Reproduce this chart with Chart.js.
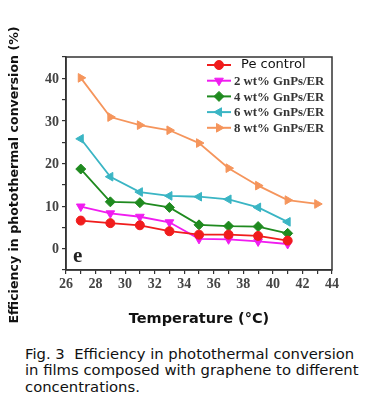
<!DOCTYPE html>
<html lang="en">
<head>
  <meta charset="UTF-8" />
  <title>Photothermal efficiency</title>
  <script src="https://cdn.jsdelivr.net/npm/chart.js"></script>
  <style>
    body {
      margin: 0;
      background: #fff;
      width: 390px;
      height: 407px;
      overflow: hidden;
      position: relative;
    }
    .chart-box {
      position: absolute;
      left: 0;
      top: 0;
      width: 390px;
      height: 335px;
    }
    .caption {
      position: absolute;
      left: 25px;
      top: 346px;
      font-family: "DejaVu Sans", sans-serif;
      font-size: 14.8px;
      line-height: 16.3px;
      color: #111;
      white-space: nowrap;
    }
  </style>
</head>
<body>
  <div class="chart-box"><canvas id="chart"></canvas></div>
  <div class="caption">Fig. 3&nbsp; Efficiency in photothermal conversion<br>in films composed with graphene to different<br>concentrations.</div>
  <script>
    // temperatures (°C)
    const temps = [27, 29, 31, 33, 35, 37, 39, 41, 43];

    // efficiency values (%)
    const peControl = [6.6, 6.0, 5.5, 4.1, 3.3, 3.3, 3.0, 1.9];
    const gnp2 = [9.9, 8.3, 7.5, 6.2, 2.3, 2.2, 1.7, 1.1];
    const gnp4 = [18.7, 11.0, 10.8, 9.7, 5.6, 5.3, 5.2, 3.6];
    const gnp6 = [25.8, 16.9, 13.3, 12.4, 12.2, 11.6, 9.7, 6.3];
    const gnp8 = [40.1, 30.9, 29.0, 27.8, 24.8, 18.9, 14.8, 11.4, 10.5];

    const seriesNames = ['Pe control', '2 wt% GnPs/ER', '4 wt% GnPs/ER', '6 wt% GnPs/ER', '8 wt% GnPs/ER'];
    const yTicks = [0, 10, 20, 30, 40];
    const xTicks = [26, 28, 30, 32, 34, 36, 38, 40, 42, 44];

    const toPoints = vals => vals.map((v, i) => ({ x: temps[i], y: v }));

    const styles = [
      { color: '#f01c1c', shape: 'circle', rot: 0, r: 4.5 },
      { color: '#f01cf0', shape: 'triangle', rot: 180, r: 5 },
      { color: '#1f8a1f', shape: 'rectRot', rot: 0, r: 5 },
      { color: '#3ab5c4', shape: 'triangle', rot: -90, r: 5 },
      { color: '#f5955c', shape: 'triangle', rot: 90, r: 5 }
    ];
    const allData = [peControl, gnp2, gnp4, gnp6, gnp8];

    const datasets = allData.map((vals, i) => ({
      label: seriesNames[i],
      data: toPoints(vals),
      borderColor: styles[i].color,
      backgroundColor: styles[i].color,
      pointStyle: styles[i].shape,
      rotation: styles[i].rot,
      pointRadius: styles[i].r,
      pointBorderWidth: 1,
      borderWidth: 1.8,
      tension: 0
    }));

    const serif = "'Liberation Serif', 'Times New Roman', serif";

    // frame, tick labels, "e" label, y title and legend
    const decor = {
      id: 'decor',
      afterDatasetsDraw(chart) {
        const { ctx, chartArea: a, scales } = chart;
        ctx.save();
        ctx.strokeStyle = '#333';
        ctx.lineWidth = 1.5;
        ctx.strokeRect(a.left, a.top, a.right - a.left, a.bottom - a.top);

        // tick labels in bold serif
        ctx.fillStyle = '#444';
        ctx.font = 'bold 14px ' + serif;
        ctx.textAlign = 'center';
        ctx.textBaseline = 'middle';
        xTicks.forEach(v => {
          ctx.fillText(String(v), scales.x.getPixelForValue(v), a.bottom + 14);
        });
        ctx.textAlign = 'right';
        yTicks.forEach(v => {
          ctx.fillText(String(v), a.left - 7, scales.y.getPixelForValue(v) + 1);
        });

        ctx.textAlign = 'left';
        ctx.fillStyle = '#222';
        ctx.font = 'bold 21px ' + serif;
        ctx.textBaseline = 'alphabetic';
        ctx.fillText('e', a.left + 7, a.bottom - 8);

        // y axis title
        ctx.save();
        ctx.translate(15, 175);
        ctx.rotate(-Math.PI / 2);
        ctx.textAlign = 'center';
        ctx.textBaseline = 'middle';
        ctx.fillStyle = '#111';
        ctx.font = 'bold 12.6px "DejaVu Sans", sans-serif';
        ctx.fillText('Efficiency in photothermal conversion (%)', 0, 0);
        ctx.restore();

        const x0 = a.left + 141, x1 = a.left + 165;
        chart.data.datasets.forEach((ds, i) => {
          const y = a.top + 8 + i * 15.7;
          ctx.strokeStyle = ds.borderColor;
          ctx.lineWidth = 2;
          ctx.beginPath();
          ctx.moveTo(x0, y);
          ctx.lineTo(x1, y);
          ctx.stroke();
          ctx.fillStyle = ds.backgroundColor;
          ctx.strokeStyle = ds.borderColor;
          ctx.lineWidth = 1;
          Chart.helpers.drawPoint(ctx, {
            pointStyle: ds.pointStyle,
            rotation: ds.rotation,
            radius: ds.pointRadius,
            borderWidth: 1
          }, (x0 + x1) / 2, y);
          ctx.textBaseline = 'middle';
          if (i === 0) {
            ctx.fillStyle = '#111';
            ctx.font = '13px "DejaVu Sans", sans-serif';
            ctx.fillText(ds.label, x1 + 10, y);
          } else {
            ctx.fillStyle = '#333';
            ctx.font = 'bold 12.8px ' + serif;
            ctx.fillText(ds.label, x1 + 3, y + 1);
          }
        });
        ctx.restore();
      }
    };

    new Chart(document.getElementById('chart'), {
      type: 'line',
      data: { datasets },
      plugins: [decor],
      options: {
        responsive: true,
        maintainAspectRatio: false,
        animation: false,
        layout: { padding: { left: 0, top: 57, right: 58, bottom: 0 } },
        plugins: { legend: { display: false }, tooltip: { enabled: false } },
        scales: {
          x: {
            type: 'linear',
            min: 26,
            max: 44,
            afterFit: s => { s.height = 65; },
            afterBuildTicks: s => {
              const t = [];
              for (let v = 26; v <= 44; v++) t.push({ value: v });
              s.ticks = t;
            },
            grid: { drawOnChartArea: false, tickLength: 4, color: '#333', lineWidth: 1.2 },
            border: { color: '#333', width: 1.5 },
            ticks: { autoSkip: false, maxRotation: 0, callback: () => '' },
            title: {
              display: true,
              text: 'Temperature (°C)',
              color: '#111',
              font: { family: '"DejaVu Sans", sans-serif', weight: 'bold', size: 14.5 },
              padding: { top: 0, bottom: 7 }
            }
          },
          y: {
            min: -5,
            max: 45,
            afterFit: s => { s.width = 66; },
            afterBuildTicks: s => {
              const t = [];
              for (let v = -5; v <= 45; v += 5) t.push({ value: v });
              s.ticks = t;
            },
            grid: { drawOnChartArea: false, tickLength: 4, color: '#333', lineWidth: 1.2 },
            border: { color: '#333', width: 1.5 },
            ticks: { autoSkip: false, callback: () => '' }
          }
        }
      }
    });
  </script>
</body>
</html>
